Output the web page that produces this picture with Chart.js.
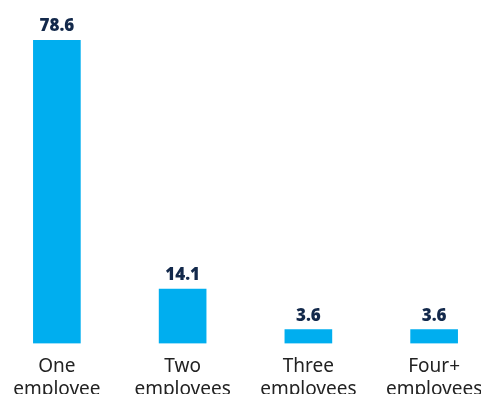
<!DOCTYPE html>
<html>
<head>
<meta charset="utf-8">
<script src="https://cdn.jsdelivr.net/npm/chart.js@4.4.0/dist/chart.umd.min.js"></script>
<style>
  html, body { margin: 0; padding: 0; background: #fff; overflow: hidden; }
  #wrap { position: absolute; left: -6px; top: 0; width: 503px; height: 405px; }
</style>
</head>
<body>
<div id="wrap"><canvas id="chart"></canvas></div>
<script>
const categories = [['One', 'employee'], ['Two', 'employees'], ['Three', 'employees'], ['Four+', 'employees']];
const shares = [78.6, 14.1, 3.6, 3.6];

const BAR = '#00aeef';
const NAVY = '#13294b';

// values printed above each bar
const valueLabels = {
  id: 'valueLabels',
  afterDatasetsDraw(chart) {
    const ctx = chart.ctx;
    const meta = chart.getDatasetMeta(0);
    ctx.save();
    ctx.font = '800 17px "Open Sans", sans-serif';
    ctx.fillStyle = NAVY;
    ctx.textAlign = 'center';
    ctx.textBaseline = 'alphabetic';
    meta.data.forEach((bar, i) => {
      ctx.fillText(shares[i].toFixed(1), bar.x, bar.y - 9);
    });
    ctx.restore();
  }
};

new Chart(document.getElementById('chart'), {
  type: 'bar',
  data: {
    labels: categories,
    datasets: [{
      data: shares,
      backgroundColor: BAR,
      barThickness: 47
    }]
  },
  options: {
    responsive: true,
    maintainAspectRatio: false,
    animation: false,
    layout: { padding: { top: 35, left: 0, right: 0, bottom: 0 } },
    plugins: { legend: { display: false }, tooltip: { enabled: false } },
    scales: {
      x: {
        grid: { display: false },
        border: { display: false },
        ticks: {
          color: '#222',
          font: { family: '"Noto Sans", sans-serif', size: 19, lineHeight: 1.2 },
          padding: 4,
          maxRotation: 0
        }
      },
      y: {
        display: false,
        min: 0,
        max: 80
      }
    }
  },
  plugins: [valueLabels]
});
</script>
</body>
</html>
